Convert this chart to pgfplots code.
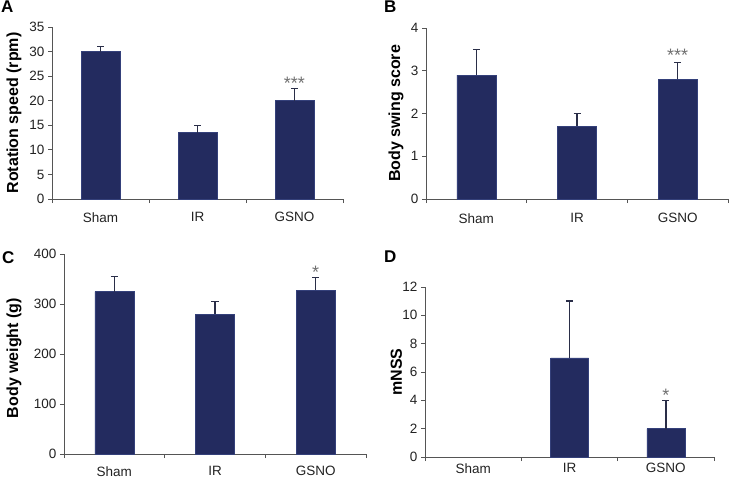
\documentclass[border=0pt]{standalone}
\usepackage{pgfplots}
\pgfplotsset{compat=1.18}
\usepackage{fontspec}
\setmainfont{Liberation Sans}
\definecolor{barnavy}{HTML}{232B5F}
\definecolor{baredge}{HTML}{34407A}
\definecolor{errcol}{HTML}{2A2E48}
\definecolor{axcol}{HTML}{555555}
\definecolor{txtcol}{HTML}{222222}
\definecolor{stargray}{HTML}{707070}
\tikzset{stars/.style={anchor=north, inner sep=0, text=stargray, font=\fontsize{18}{20}\selectfont}}
\pgfplotsset{
  panel/.style={
    scale only axis,
    axis lines=left,
    axis line style={-, draw=axcol, line width=0.8pt},
    tick style={draw=axcol, line width=0.8pt},
    tick align=outside,
    major tick length=4pt,
    xmin=0, xmax=3, ymin=0,
    xtick={0,1,2,3}, xticklabels={},
    extra x ticks={0.5,1.5,2.5},
    extra x tick labels={Sham,IR,GSNO},
    extra x tick style={major tick length=0pt, xticklabel style={yshift=#1}},
    tick label style={font=\fontsize{13.5}{15}\selectfont, text=txtcol},
    /pgf/number format/assume math mode=true,
    ylabel style={font=\fontsize{16}{18}\selectfont\bfseries, text=black, rotate=0, anchor=south},
    clip=false,
  },
  mybar/.style={ybar, bar width=39pt, fill=barnavy, draw=baredge, line width=0.6pt,
    error bars/.cd, y dir=plus, y explicit,
    error bar style={line width=1.4pt, draw=errcol},
    error mark options={rotate=90, mark size=3.5pt, line width=1.4pt, draw=errcol},
    /pgfplots/.cd},
}
\newcommand{\paneltag}[1]{{\fontsize{17}{19}\selectfont\bfseries #1}}
\begin{document}
\begin{tikzpicture}
\useasboundingbox (0pt,0pt) rectangle (730pt,-480pt);
% Panel letters
\node[anchor=north west, inner sep=0] at (1pt,-1pt) {\paneltag{A}};
\node[anchor=north west, inner sep=0] at (384pt,-1pt) {\paneltag{B}};
\node[anchor=north west, inner sep=0] at (2pt,-251pt) {\paneltag{C}};
\node[anchor=north west, inner sep=0] at (384pt,-251pt) {\paneltag{D}};

% Panel A
\begin{axis}[panel=-10pt, at={(52pt,-199pt)}, anchor=south west, width=291pt, height=172pt,
  ymax=35, ytick={0,5,...,35},
  ylabel={Rotation speed (rpm)},
  ylabel style={at={(axis description cs:-0.168,0.5)}, anchor=north, rotate=0}]
\addplot[mybar] coordinates {(0.5,30) +- (0,1) (1.5,13.5) +- (0,1.5) (2.5,20) +- (0,2.5)};
\node[stars] at (axis cs:2.5,24.9) {***};
\end{axis}

% Panel B
\begin{axis}[panel=-11pt, at={(426pt,-199pt)}, anchor=south west, width=302pt, height=171pt,
  ymax=4, ytick={0,1,2,3,4},
  ylabel={Body swing score},
  ylabel style={at={(axis description cs:-0.136,0.5)}, anchor=north}]
\addplot[mybar] coordinates {(0.5,2.9) +- (0,0.6) (1.5,1.7) +- (0,0.3) (2.5,2.8) +- (0,0.4)};
\node[stars] at (axis cs:2.5,3.5) {***};
\end{axis}

% Panel C
\begin{axis}[panel=-9pt, at={(64pt,-454pt)}, anchor=south west, width=302pt, height=200pt,
  ymax=400, ytick={0,100,200,300,400},
  ylabel={Body weight (g)},
  ylabel style={at={(axis description cs:-0.202,0.48)}, anchor=north}]
\addplot[mybar] coordinates {(0.5,325) +- (0,30) (1.5,280) +- (0,25) (2.5,328) +- (0,25)};
\node[stars] at (axis cs:2.5,376) {*};
\end{axis}

% Panel D
\begin{axis}[panel=-3pt, at={(425pt,-457pt)}, anchor=south west, width=289pt, height=170pt,
  ymax=12, ytick={0,2,...,12},
  ylabel={mNSS},
  ylabel style={at={(axis description cs:-0.131,0.5)}, anchor=north}]
\addplot[mybar, bar width=38pt] coordinates {(1.5,7) +- (0,4) (2.5,2) +- (0,2)};
\node[stars] at (axis cs:2.5,4.8) {*};
\end{axis}
\end{tikzpicture}
\end{document}
